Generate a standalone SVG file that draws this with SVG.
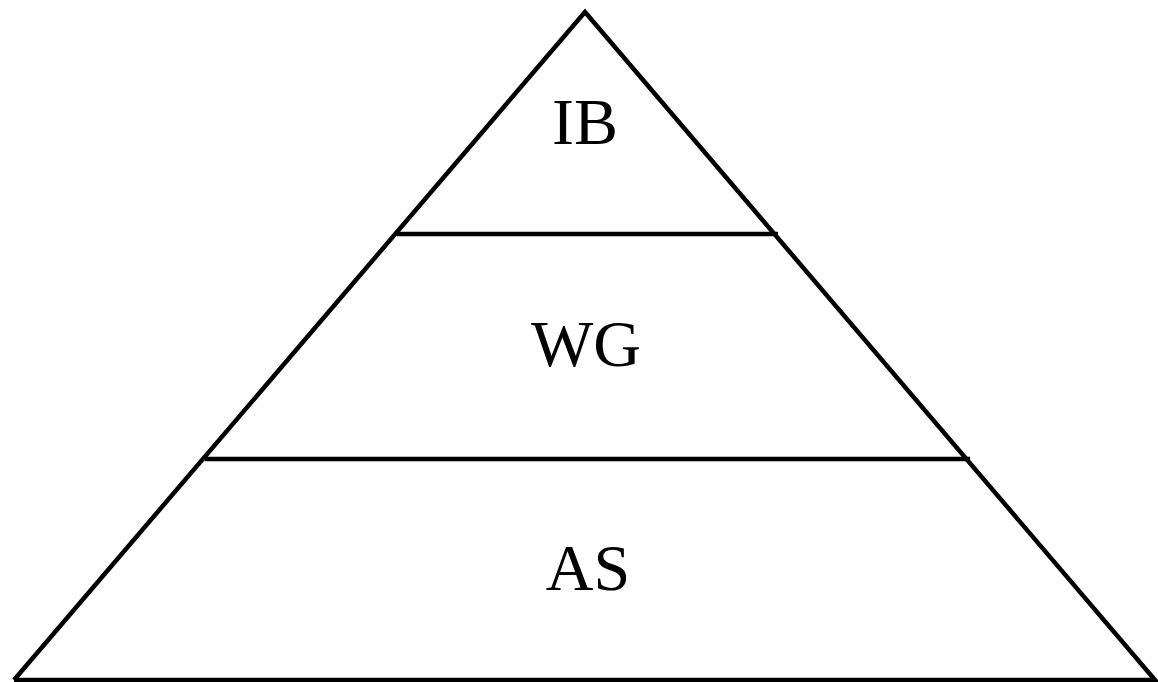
<svg xmlns="http://www.w3.org/2000/svg" width="1158" height="682" viewBox="0 0 1158 682">
<style>
.edge{stroke:#000;stroke-width:4.5;fill:none;stroke-linecap:butt;stroke-linejoin:miter}
.lbl{font-family:"Liberation Serif","DejaVu Serif",serif;font-size:66px;fill:#000;text-anchor:middle}
</style>
<rect width="1158" height="682" fill="#fff"/>
<g id="outline">
<polyline class="edge" points="14,680 585,12 1155,680 14,680"/>
</g>
<g id="connectors">
<line class="edge" x1="397" y1="234" x2="778" y2="234"/>
<line class="edge" x1="205" y1="459" x2="970" y2="459"/>
</g>
<g id="node-IB"><text class="lbl" x="585" y="144">IB</text></g>
<g id="node-WG"><text class="lbl" x="586" y="366">WG</text></g>
<g id="node-AS"><text class="lbl" x="588" y="590">AS</text></g>
</svg>
